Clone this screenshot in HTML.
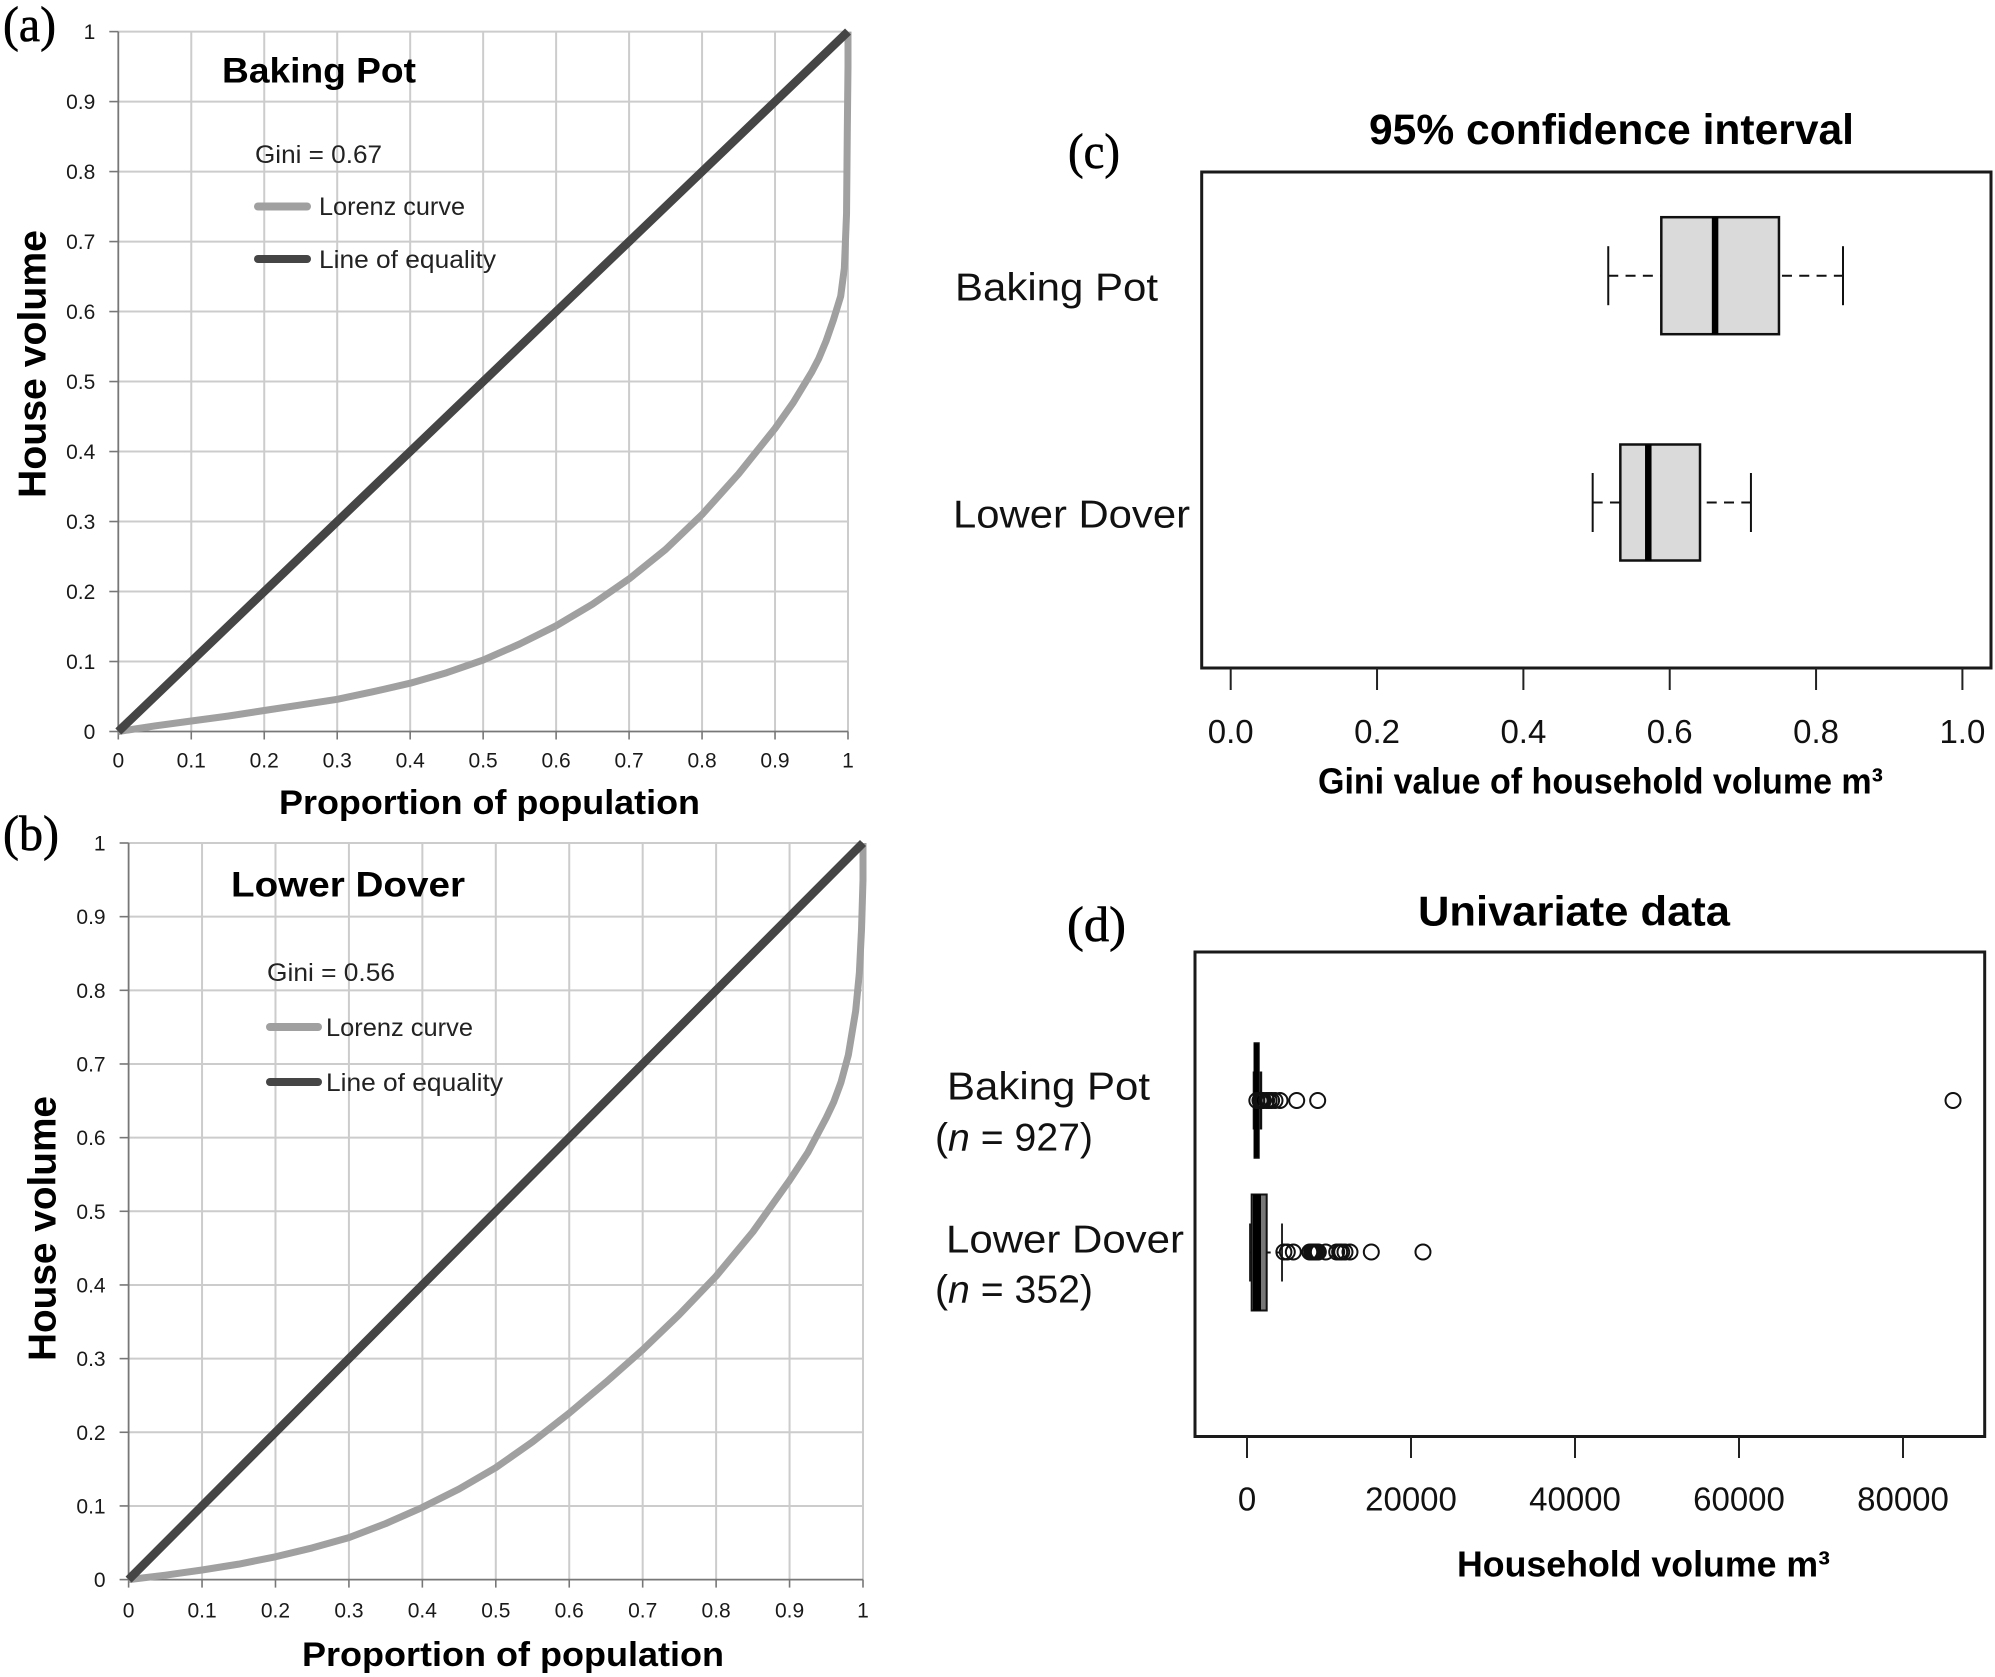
<!DOCTYPE html>
<html lang="en">
<head>
<meta charset="utf-8">
<title>Lorenz curves and Gini boxplots</title>
<style>
html,body{margin:0;padding:0;background:#fff;}
svg{display:block;}
text{font-family:"Liberation Sans",sans-serif;fill:#000;dominant-baseline:central;}
.b{font-weight:bold;}
.panel-tag{font-family:"Liberation Serif",serif;font-size:50px;stroke:#000;stroke-width:0.6px;}
.tick-small{font-size:21px;fill:#1a1a1a;}
.tick-big{font-size:33px;fill:#111;}
.legend{font-size:25px;fill:#222;}
.cat{font-size:39px;fill:#111;}
</style>
</head>
<body>
<svg id="figure" xmlns="http://www.w3.org/2000/svg" width="1995" height="1677" viewBox="0 0 1995 1677">
  <rect x="0" y="0" width="1995" height="1677" fill="#fff"/>
  <g id="panel-a"></g>
  <g id="panel-b"></g>
  <g id="panel-c"></g>
  <g id="panel-d"></g>

  <text class="panel-tag" x="3" y="24" textLength="53" lengthAdjust="spacingAndGlyphs">(a)</text>
  <text class="panel-tag" x="3" y="833" textLength="56" lengthAdjust="spacingAndGlyphs">(b)</text>
  <text class="panel-tag" x="1068" y="151" textLength="52" lengthAdjust="spacingAndGlyphs">(c)</text>
  <text class="panel-tag" x="1067" y="924" textLength="59" lengthAdjust="spacingAndGlyphs">(d)</text>

  <text class="b" x="222" y="71" font-size="35" textLength="194" lengthAdjust="spacingAndGlyphs">Baking Pot</text>
  <text class="legend" x="255" y="155" textLength="127" lengthAdjust="spacingAndGlyphs">Gini = 0.67</text>
  <line x1="258" y1="206.5" x2="307" y2="206.5" stroke="#a0a0a0" stroke-width="8" stroke-linecap="round"/>
  <text class="legend" x="319" y="207" textLength="146" lengthAdjust="spacingAndGlyphs">Lorenz curve</text>
  <line x1="258" y1="259" x2="307" y2="259" stroke="#454545" stroke-width="8" stroke-linecap="round"/>
  <text class="legend" x="319" y="260" textLength="177" lengthAdjust="spacingAndGlyphs">Line of equality</text>
  <text class="b" x="279" y="803" font-size="34" textLength="421" lengthAdjust="spacingAndGlyphs">Proportion of population</text>
  <text class="b" transform="translate(33,498) rotate(-90)" x="0" y="0" font-size="39" textLength="268" lengthAdjust="spacingAndGlyphs">House volume</text>

  <text class="b" x="231" y="885" font-size="35" textLength="234" lengthAdjust="spacingAndGlyphs">Lower Dover</text>
  <text class="legend" x="267" y="973" textLength="128" lengthAdjust="spacingAndGlyphs">Gini = 0.56</text>
  <line x1="270" y1="1027" x2="318" y2="1027" stroke="#a0a0a0" stroke-width="8" stroke-linecap="round"/>
  <text class="legend" x="326" y="1028" textLength="147" lengthAdjust="spacingAndGlyphs">Lorenz curve</text>
  <line x1="270" y1="1082" x2="318" y2="1082" stroke="#454545" stroke-width="8" stroke-linecap="round"/>
  <text class="legend" x="326" y="1083" textLength="177" lengthAdjust="spacingAndGlyphs">Line of equality</text>
  <text class="b" x="302" y="1655" font-size="34" textLength="422" lengthAdjust="spacingAndGlyphs">Proportion of population</text>
  <text class="b" transform="translate(43,1361) rotate(-90)" x="0" y="0" font-size="39" textLength="265" lengthAdjust="spacingAndGlyphs">House volume</text>

  <text class="b" x="1369" y="130" font-size="43" textLength="485" lengthAdjust="spacingAndGlyphs">95% confidence interval</text>
  <text class="cat" x="955" y="288" textLength="203" lengthAdjust="spacingAndGlyphs">Baking Pot</text>
  <text class="cat" x="953" y="515" textLength="237" lengthAdjust="spacingAndGlyphs">Lower Dover</text>
  <text class="b" x="1318" y="781" font-size="36" textLength="565" lengthAdjust="spacingAndGlyphs">Gini value of household volume m³</text>

  <text class="b" x="1418" y="911" font-size="42" textLength="312" lengthAdjust="spacingAndGlyphs">Univariate data</text>
  <text class="cat" x="947" y="1087" textLength="203" lengthAdjust="spacingAndGlyphs">Baking Pot</text>
  <text class="cat" x="935" y="1138" textLength="158" lengthAdjust="spacingAndGlyphs">(<tspan font-style="italic">n</tspan> = 927)</text>
  <text class="cat" x="946" y="1240" textLength="238" lengthAdjust="spacingAndGlyphs">Lower Dover</text>
  <text class="cat" x="935" y="1290" textLength="158" lengthAdjust="spacingAndGlyphs">(<tspan font-style="italic">n</tspan> = 352)</text>
  <text class="b" x="1457" y="1564" font-size="36" textLength="373" lengthAdjust="spacingAndGlyphs">Household volume m³</text>
</svg>

<script>
// ---- Data ----
const lorenzTicks = ['0','0.1','0.2','0.3','0.4','0.5','0.6','0.7','0.8','0.9','1'];
const equalityX = [0, 1];
const equalityY = [0, 1];
const lorenzAX = [0, 0.05, 0.1, 0.15, 0.2, 0.25, 0.3, 0.35, 0.4, 0.45, 0.5, 0.55, 0.6, 0.65, 0.7, 0.75, 0.8, 0.85, 0.9, 0.925, 0.95, 0.96, 0.97, 0.98, 0.99, 0.995, 0.998, 0.999, 1, 1];
const lorenzAY = [0, 0.008, 0.015, 0.022, 0.03, 0.038, 0.046, 0.057, 0.069, 0.084, 0.102, 0.125, 0.151, 0.182, 0.218, 0.26, 0.31, 0.368, 0.433, 0.47, 0.513, 0.533, 0.558, 0.588, 0.622, 0.662, 0.74, 0.854, 0.95, 1];
const lorenzBX = [0, 0.05, 0.1, 0.15, 0.2, 0.25, 0.3, 0.35, 0.4, 0.45, 0.5, 0.55, 0.6, 0.65, 0.7, 0.75, 0.8, 0.85, 0.9, 0.925, 0.95, 0.96, 0.97, 0.98, 0.99, 0.995, 0.998, 1, 1];
const lorenzBY = [0, 0.006, 0.013, 0.021, 0.031, 0.043, 0.057, 0.076, 0.098, 0.123, 0.152, 0.187, 0.226, 0.268, 0.312, 0.36, 0.412, 0.472, 0.542, 0.58, 0.627, 0.648, 0.675, 0.712, 0.772, 0.823, 0.883, 0.95, 1];

const giniTicks = ['0.0','0.2','0.4','0.6','0.8','1.0'];
const giniBakingPot = [0.516, 0.5885, 0.662, 0.7493, 0.8368];
const giniLowerDover = [0.4947, 0.5325, 0.5707, 0.6414, 0.711];

const volumeTicks = ['0','20000','40000','60000','80000'];
const volumeBakingPot = [850, 950, 1130, 1400, 1700];
const volumeLowerDover = [370, 570, 1220, 2400, 4270];
const outliersBakingPot = [1200, 1585, 1800, 2000, 2400, 2700, 3000, 3414, 4024, 6060, 8620, 86100];
const outliersLowerDover = [4500, 4915, 5650, 7650, 7890, 8100, 8290, 8500, 8700, 9600, 10940, 11300, 11550, 11950, 12560, 15160, 21460];

// ---- Helpers ----
const SVGNS = 'http://www.w3.org/2000/svg';
function make(parent, tag, attrs, txt) {
  const el = document.createElementNS(SVGNS, tag);
  for (const k in attrs) el.setAttribute(k, attrs[k]);
  if (txt !== undefined) el.textContent = txt;
  parent.appendChild(el);
  return el;
}
function linear(v0, p0, v1, p1) {
  return v => p0 + (v - v0) * (p1 - p0) / (v1 - v0);
}

// ---- Lorenz panels ----
function drawLorenz(id, box, curveX, curveY) {
  const root = document.getElementById(id);
  const sx = linear(0, box.left, 1, box.right);
  const sy = linear(0, box.bottom, 1, box.top);
  lorenzTicks.forEach(t => {
    const v = parseFloat(t);
    if (v > 0) {
      const gv = make(root, 'line', {x1:sx(v), x2:sx(v), y1:box.top, y2:box.bottom, stroke:'#cccccc', 'stroke-width':2});
      
      
      const gh = make(root, 'line', {x1:box.left, x2:box.right, y1:sy(v), y2:sy(v), stroke:'#cccccc', 'stroke-width':2});
      
      
    }
    const tx = make(root, 'line', {x1:sx(v), x2:sx(v), y1:box.bottom, y2:box.bottom + 8, stroke:'#777', 'stroke-width':1.6});
    
    
    const ty = make(root, 'line', {x1:box.left - 9, x2:box.left, y1:sy(v), y2:sy(v), stroke:'#777', 'stroke-width':1.6});
    
    
    const lx = make(root, 'text', {class:'tick-small', x:sx(v), y:box.xLabelY, 'text-anchor':'middle'}, t);
    
    
    const ly = make(root, 'text', {class:'tick-small', x:box.left - 23, y:sy(v) + 1, 'text-anchor':'end'}, t);
    
    
  });
  const ax = make(root, 'line', {x1:box.left, x2:box.right, y1:box.bottom, y2:box.bottom, stroke:'#777', 'stroke-width':1.8});
  
  
  const ay = make(root, 'line', {x1:box.left, x2:box.left, y1:box.top, y2:box.bottom, stroke:'#777', 'stroke-width':1.8});
  
  

  const lorenzPts = curveX.map((x, i) => sx(x) + ',' + sy(curveY[i])).join(' ');
  const lor = make(root, 'polyline', {points:lorenzPts, fill:'none', stroke:'#a0a0a0', 'stroke-width':7, 'stroke-linejoin':'round'});
  
  
  const eqPts = equalityX.map((x, i) => sx(x) + ',' + sy(equalityY[i])).join(' ');
  const eq = make(root, 'polyline', {points:eqPts, fill:'none', stroke:'#454545', 'stroke-width':8.5});
  
  
}
drawLorenz('panel-a', {left:118.3, right:848, top:31.6, bottom:731.5, xLabelY:761}, lorenzAX, lorenzAY);
drawLorenz('panel-b', {left:128.6, right:863, top:843, bottom:1579.6, xLabelY:1611}, lorenzBX, lorenzBY);

// ---- Box plots ----
function drawFrame(root, f, ticks, sx) {
  const fr = make(root, 'rect', {x:f.left, y:f.top, width:f.right - f.left, height:f.bottom - f.top, fill:'none', stroke:'#1a1a1a', 'stroke-width':3});
  
  
  ticks.forEach(t => {
    const v = parseFloat(t);
    const tk = make(root, 'line', {x1:sx(v), x2:sx(v), y1:f.bottom, y2:f.tickEnd, stroke:'#222', 'stroke-width':2});
    
    
    const lb = make(root, 'text', {class:'tick-big', x:sx(v), y:f.labelY, 'text-anchor':'middle', 'font-size':f.labelSize}, t);
    
    
  });
}
function drawBox(root, stats, g, sx, name) {
  const lo = sx(stats[0]), q1 = sx(stats[1]), med = sx(stats[2]), q3 = sx(stats[3]), hi = sx(stats[4]);
  const wl = make(root, 'line', {x1:lo, x2:q1, y1:g.cy, y2:g.cy, stroke:'#111', 'stroke-width':2, 'stroke-dasharray':g.dash});
  
  
  const wh = make(root, 'line', {x1:q3 + g.hiGap, x2:hi, y1:g.cy, y2:g.cy, stroke:'#111', 'stroke-width':2, 'stroke-dasharray':g.dash});
  
  
  const cl = make(root, 'line', {x1:lo, x2:lo, y1:g.cy - g.capH, y2:g.cy + g.capH, stroke:'#111', 'stroke-width':g.capW});
  
  
  const ch = make(root, 'line', {x1:hi, x2:hi, y1:g.cy - g.capH, y2:g.cy + g.capH, stroke:'#111', 'stroke-width':g.capW});
  
  
  const rc = make(root, 'rect', {x:q1, y:g.cy - g.boxH, width:q3 - q1, height:2 * g.boxH, fill:g.fill, stroke:'#111', 'stroke-width':g.boxW});
  
  
  const md = make(root, 'line', {x1:med, x2:med, y1:g.cy - g.boxH, y2:g.cy + g.boxH, stroke:'#000', 'stroke-width':g.medW});
  
  
}

const rootC = document.getElementById('panel-c');
const sxC = linear(0, 1230.7, 1, 1962.4);
drawFrame(rootC, {left:1201.7, right:1991, top:172, bottom:668, tickEnd:690, labelY:731.5, labelSize:33.5}, giniTicks, sxC);
drawBox(rootC, giniBakingPot, {cy:275.7, boxH:58.5, capH:29.5, capW:2, boxW:2.5, medW:6.5, fill:'#dadada', dash:'10 7.3', hiGap:3}, sxC, 'baking-pot');
drawBox(rootC, giniLowerDover, {cy:502.5, boxH:58, capH:29.5, capW:2, boxW:2.5, medW:6.5, fill:'#dadada', dash:'10 7.3', hiGap:6.7}, sxC, 'lower-dover');

const rootD = document.getElementById('panel-d');
const sxD = linear(0, 1247, 80000, 1903);
drawFrame(rootD, {left:1195, right:1984.7, top:952, bottom:1436.5, tickEnd:1458, labelY:1499, labelSize:34}, volumeTicks, sxD);
drawBox(rootD, volumeBakingPot, {cy:1100.5, boxH:57, capH:29, capW:2.5, boxW:2.5, medW:5, fill:'#222', dash:'4 3', hiGap:0}, sxD, 'baking-pot');
drawBox(rootD, volumeLowerDover, {cy:1252.5, boxH:58, capH:29, capW:1.8, boxW:2, medW:8, fill:'#777', dash:'4 6', hiGap:0}, sxD, 'lower-dover');
outliersBakingPot.forEach(v => {
  const c = make(rootD, 'circle', {cx:sxD(v), cy:1100.5, r:7.5, fill:'none', stroke:'#111', 'stroke-width':2});
  
  
});
outliersLowerDover.forEach(v => {
  const c = make(rootD, 'circle', {cx:sxD(v), cy:1252, r:7.5, fill:'none', stroke:'#111', 'stroke-width':2});
  
  
});
</script>
</body>
</html>
